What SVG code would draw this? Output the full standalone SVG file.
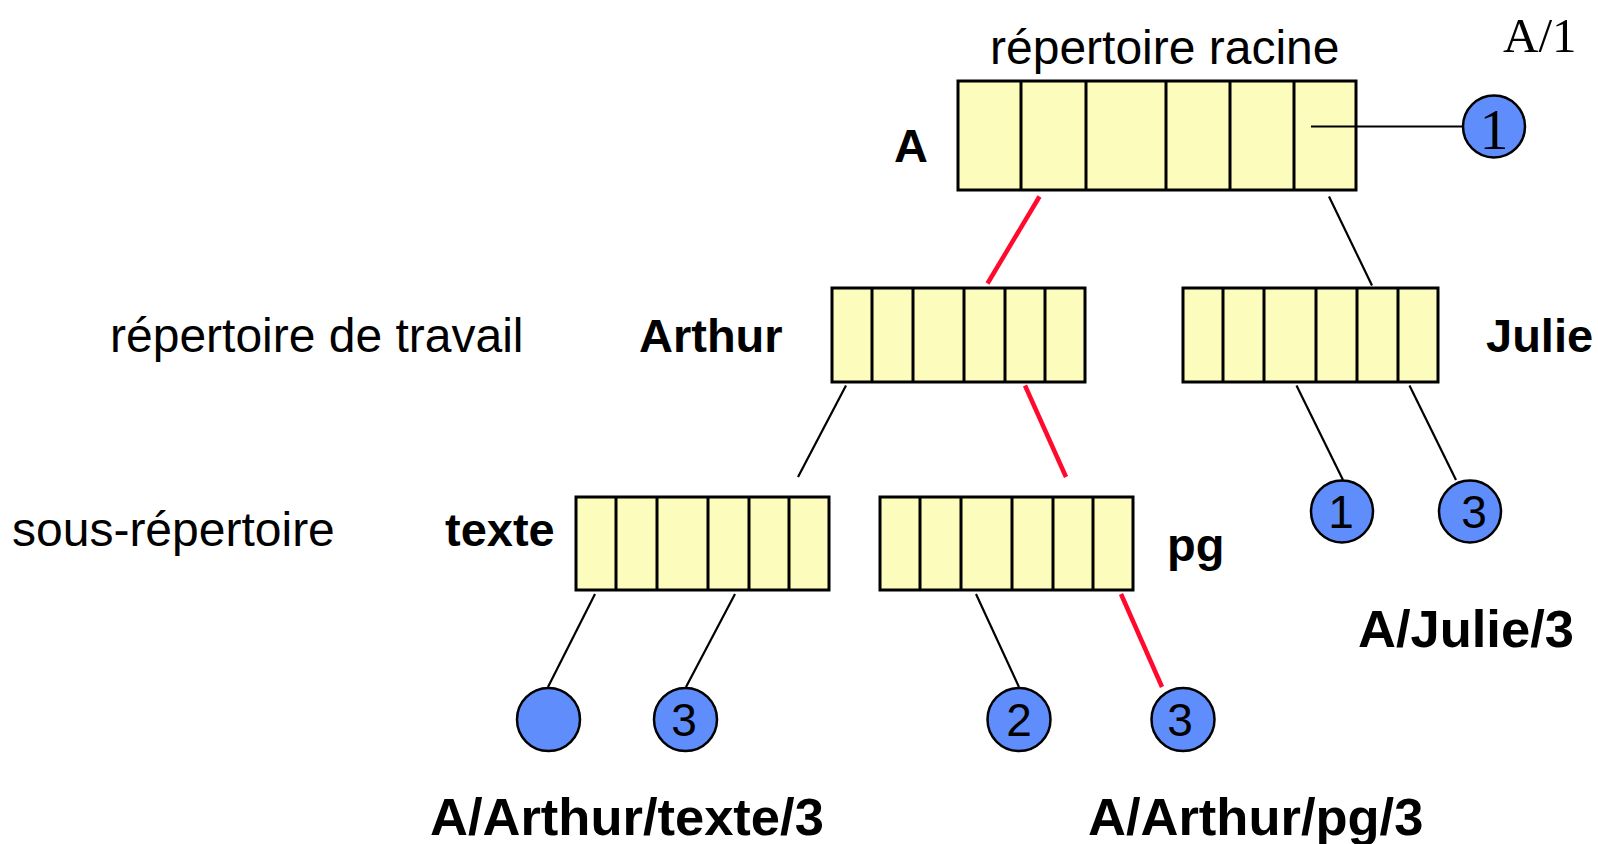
<svg xmlns="http://www.w3.org/2000/svg" width="1598" height="844" viewBox="0 0 1598 844">
<defs>
<style>
.box{fill:#FCFCBC;stroke:#000;stroke-width:3}
.div{stroke:#000;stroke-width:3}
.ball{fill:#5F8EFC;stroke:#000;stroke-width:2.5}
.blk{stroke:#000;stroke-width:2.2;fill:none}
.red{stroke:#FF0A2D;stroke-width:4.5;fill:none}
.lbl{font-family:"Liberation Sans",Arial,sans-serif;font-size:48px;fill:#000}
.bld{font-family:"Liberation Sans",Arial,sans-serif;font-size:47px;font-weight:bold;fill:#000}
.path{font-family:"Liberation Sans",Arial,sans-serif;font-size:52.5px;font-weight:bold;fill:#000}
.dig{font-family:"Liberation Sans",Arial,sans-serif;font-size:46px;fill:#000;text-anchor:middle}
.ser{font-family:"Liberation Serif","Times New Roman",serif;fill:#000}
</style>
</defs>
<rect width="1598" height="844" fill="#fff"/>

<g id="labels">
<text class="ser" x="1503" y="52" font-size="49">A/1</text>
<text class="lbl" x="990" y="64">répertoire racine</text>
<text class="lbl" x="110" y="352">répertoire de travail</text>
<text class="lbl" x="12" y="546">sous-répertoire</text>
<text class="path" x="1358" y="647">A/Julie/3</text>
<text class="path" x="430" y="835">A/Arthur/texte/3</text>
<text class="path" x="1088" y="835">A/Arthur/pg/3</text>
</g>

<g id="node-root">
<rect class="box" x="958" y="81" width="398" height="109"/>
<line class="div" x1="1021" y1="81" x2="1021" y2="190"/>
<line class="div" x1="1086" y1="81" x2="1086" y2="190"/>
<line class="div" x1="1166" y1="81" x2="1166" y2="190"/>
<line class="div" x1="1230" y1="81" x2="1230" y2="190"/>
<line class="div" x1="1294" y1="81" x2="1294" y2="190"/>
<text class="bld" x="894" y="162">A</text>
</g>

<g id="node-root-file1">
<circle class="ball" cx="1494" cy="126.5" r="31"/>
<text class="ser" x="1494" y="149" font-size="58" text-anchor="middle">1</text>
</g>

<g id="node-arthur">
<rect class="box" x="832" y="288" width="253" height="94"/>
<line class="div" x1="872" y1="288" x2="872" y2="382"/>
<line class="div" x1="913" y1="288" x2="913" y2="382"/>
<line class="div" x1="964" y1="288" x2="964" y2="382"/>
<line class="div" x1="1005" y1="288" x2="1005" y2="382"/>
<line class="div" x1="1045" y1="288" x2="1045" y2="382"/>
<text class="bld" x="639" y="352">Arthur</text>
</g>

<g id="node-julie">
<rect class="box" x="1183" y="288" width="255" height="94"/>
<line class="div" x1="1223" y1="288" x2="1223" y2="382"/>
<line class="div" x1="1264" y1="288" x2="1264" y2="382"/>
<line class="div" x1="1316" y1="288" x2="1316" y2="382"/>
<line class="div" x1="1357" y1="288" x2="1357" y2="382"/>
<line class="div" x1="1398" y1="288" x2="1398" y2="382"/>
<text class="bld" x="1486" y="352">Julie</text>
</g>

<g id="node-julie-1">
<circle class="ball" cx="1342" cy="511.5" r="31"/>
<text class="dig" x="1341" y="528">1</text>
</g>
<g id="node-julie-3">
<circle class="ball" cx="1470" cy="511.5" r="31"/>
<text class="dig" x="1474" y="528">3</text>
</g>

<g id="node-texte">
<rect class="box" x="576" y="497" width="253" height="93"/>
<line class="div" x1="616" y1="497" x2="616" y2="590"/>
<line class="div" x1="657" y1="497" x2="657" y2="590"/>
<line class="div" x1="708" y1="497" x2="708" y2="590"/>
<line class="div" x1="749" y1="497" x2="749" y2="590"/>
<line class="div" x1="789" y1="497" x2="789" y2="590"/>
<text class="bld" x="445" y="546">texte</text>
</g>

<g id="node-pg">
<rect class="box" x="880" y="497" width="253" height="93"/>
<line class="div" x1="920" y1="497" x2="920" y2="590"/>
<line class="div" x1="961" y1="497" x2="961" y2="590"/>
<line class="div" x1="1012" y1="497" x2="1012" y2="590"/>
<line class="div" x1="1053" y1="497" x2="1053" y2="590"/>
<line class="div" x1="1093" y1="497" x2="1093" y2="590"/>
<text class="bld" x="1167" y="561">pg</text>
</g>

<g id="node-texte-empty">
<circle class="ball" cx="548.5" cy="719.5" r="31.5"/>
</g>
<g id="node-texte-3">
<circle class="ball" cx="685.5" cy="719.5" r="31.5"/>
<text class="dig" x="684" y="736">3</text>
</g>
<g id="node-pg-2">
<circle class="ball" cx="1019" cy="719.5" r="31.5"/>
<text class="dig" x="1019" y="736">2</text>
</g>
<g id="node-pg-3">
<circle class="ball" cx="1183" cy="719.5" r="31.5"/>
<text class="dig" x="1180" y="736">3</text>
</g>

<g id="connectors">
<line class="blk" x1="1311" y1="126.5" x2="1463" y2="126.5"/>
<line class="red" x1="1039.5" y1="196.5" x2="987.5" y2="283.5"/>
<line class="blk" x1="1329" y1="196.5" x2="1372" y2="285.5"/>
<line class="blk" x1="846" y1="385.5" x2="798" y2="477"/>
<line class="red" x1="1025" y1="385.5" x2="1066" y2="477"/>
<line class="blk" x1="1296.5" y1="385.5" x2="1343" y2="480"/>
<line class="blk" x1="1409.5" y1="385.5" x2="1456" y2="480"/>
<line class="blk" x1="595" y1="594" x2="548" y2="687"/>
<line class="blk" x1="735" y1="594" x2="686" y2="687"/>
<line class="blk" x1="976" y1="594" x2="1019" y2="687"/>
<line class="red" x1="1121" y1="594" x2="1162" y2="687"/>
</g>
</svg>
